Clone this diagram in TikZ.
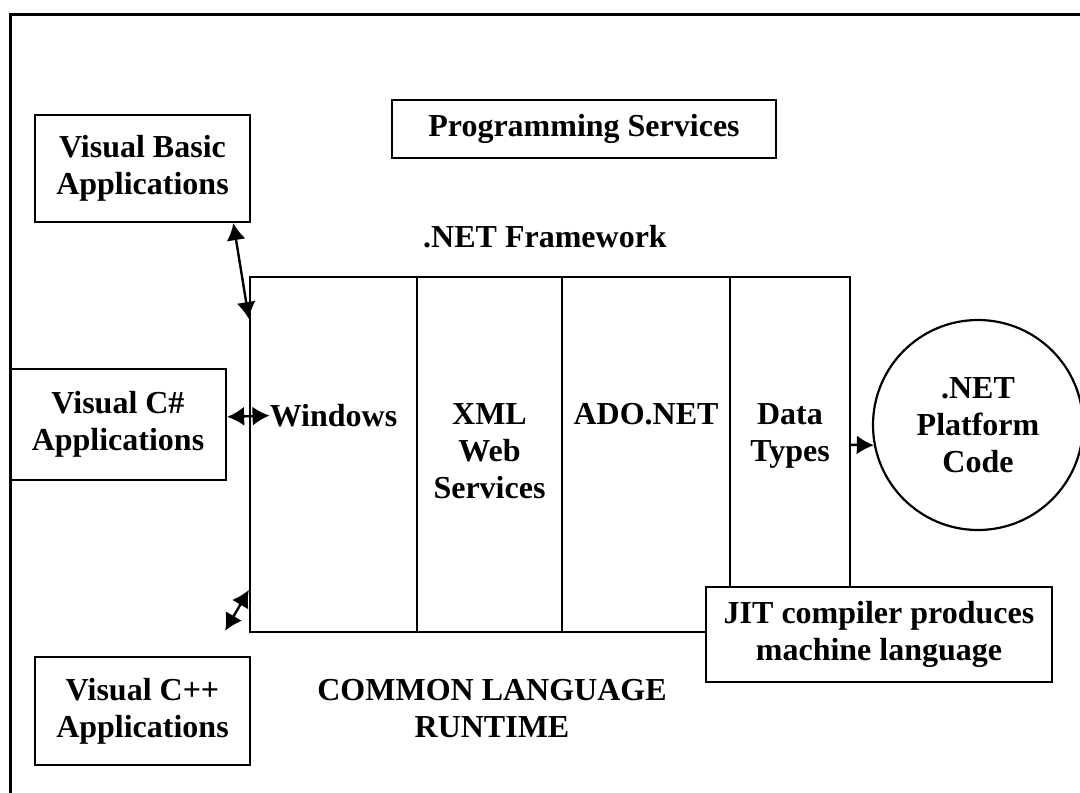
\documentclass[tikz,border=0pt]{standalone}
\usepackage{fontspec}
\setmainfont{Liberation Serif}
\usetikzlibrary{arrows.meta}

\begin{document}
\begin{tikzpicture}[x=1pt,y=-1pt,
    every node/.style={font=\fontsize{32}{37}\selectfont\bfseries,align=center},
    box/.style={draw,line width=2.2pt,inner sep=0pt},
    column/.style={draw,line width=2.2pt,minimum height=355,inner sep=0pt},
    colhead/.style={anchor=north,inner sep=0pt},
    link/.style={{Latex[length=17pt,width=19pt]}-{Latex[length=17pt,width=19pt]},line width=2.4pt}]
\useasboundingbox (0,0) rectangle (1080,793);
\draw[line width=3pt] (10,793) -- (10,14) -- (1080,14);

\node[box,minimum width=384,minimum height=58] (progsvc) at (584,129) {Programming Services};
\node (netfw) at (545,237) {.NET Framework};

\node[box,minimum width=215,minimum height=107] (vbapp) at (142.5,168.5) {Visual Basic\\Applications};
\node[box,minimum width=216,minimum height=111] (csapp) at (118,424.5) {Visual C\#\\Applications};
\node[box,minimum width=215,minimum height=108] (cppapp) at (142.5,711) {Visual C++\\Applications};

% framework columns
\node[column,minimum width=167] (windows) at (333.5,454.5) {};
\node[column,minimum width=145] (xml) at (489.5,454.5) {};
\node[column,minimum width=168] (ado) at (646,454.5) {};
\node[column,minimum width=120] (types) at (790,454.5) {};
\node[colhead] (windowstxt) at (windows.center |- 0,404) {Windows};
\node[colhead] (xmltxt) at (xml.center |- 0,403) {XML\\Web\\Services};
\node[colhead] (adotxt) at (ado.center |- 0,403) {ADO.NET};
\node[colhead] (typestxt) at (types.center |- 0,403) {Data\\Types};

\node[draw,circle,line width=2.2pt,minimum size=210,inner sep=0pt] (platform) at (978,425) {.NET\\Platform\\Code};
\node[box,fill=white,minimum width=346,minimum height=95] (jit) at (879,634.5) {JIT compiler produces\\machine language};
\node (clr) at (492,709) {COMMON LANGUAGE\\RUNTIME};

\draw[link] (vbapp.-31) -- (windows.122);
\draw[link] (csapp.4) -- (windowstxt.west);
\draw[link,shorten >=29pt] (windows.238) -- (cppapp.39);
\draw[-{Latex[length=17pt,width=19pt]},line width=2.4pt] (types.9) -- (platform.191);
\end{tikzpicture}
\end{document}
